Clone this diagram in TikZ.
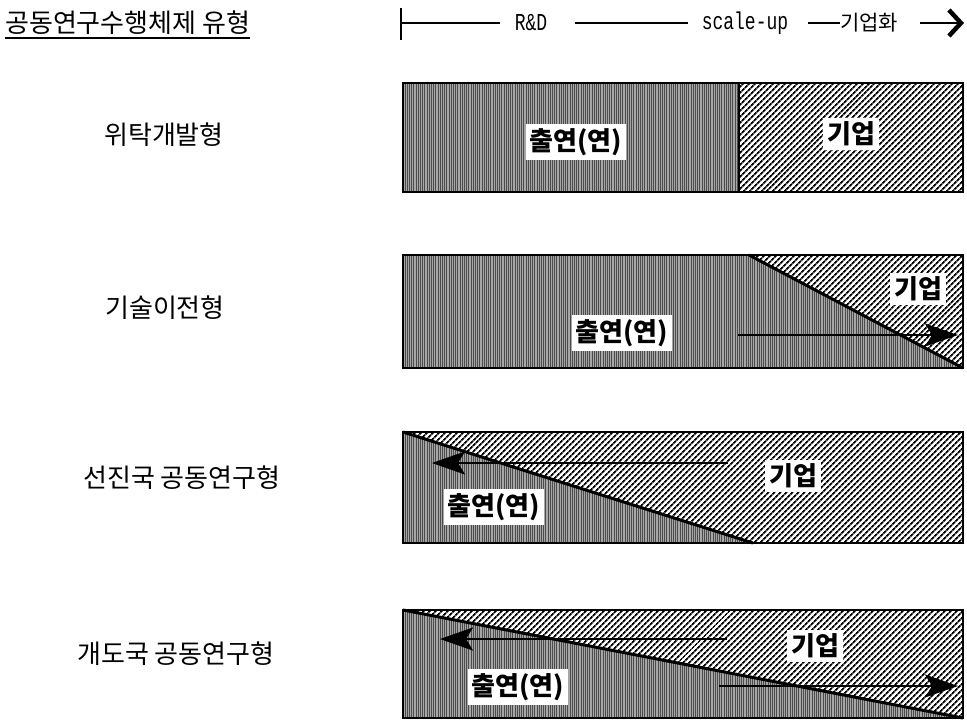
\documentclass[tikz,border=0pt]{standalone}
\usepackage{fontspec}
\setmainfont{Noto Sans CJK KR}
\newfontfamily\monofnt{Liberation Mono}
\usetikzlibrary{patterns.meta,arrows.meta}
\tikzset{
  dark/.style={fill=black!35, postaction={pattern={Lines[angle=90,distance=2.2pt,line width=0.55pt]}, pattern color=black!70}},
  hatch/.style={fill=white, postaction={pattern={Lines[angle=45,distance=4pt,line width=1.9pt]}, pattern color=black}},
  frame/.style={line width=2.8pt},
  divline/.style={line width=3pt},
  thindiv/.style={line width=1.5pt},
  flow/.style={line width=2.5pt, -{Stealth[length=33pt,width=23pt,inset=7pt]}},
  lab/.style={fill=white, font=\fontsize{26}{28}\selectfont\bfseries, inner sep=4pt},
  rowlab/.style={font=\fontsize{26}{28}\selectfont},
  hdr/.style={line width=1.4pt},
  mono/.style={font=\monofnt\fontsize{18}{20}\selectfont},
}
\begin{document}
\begin{tikzpicture}[x=1pt,y=-1pt]
\useasboundingbox (0,0) rectangle (967,720);

% header
\node[font=\fontsize{26}{28}\selectfont, anchor=west, inner sep=0pt] (title) at (5,23) {공동연구수행체제 유형};
\draw[line width=1.3pt] ([yshift=-3pt]title.south west) -- ([yshift=-3pt]title.south east);
\coordinate (t0) at (401,23);
\coordinate (tt) at (401,8);
\coordinate (tb) at (401,40);
\draw[line width=1.8pt] (tt) -- (tb);
\node[mono, inner sep=0pt] (rd) at (531,23) {\scalebox{1}[1.35]{R\&D}};
\node[mono, inner sep=0pt] (su) at (745,23) {\scalebox{1}[1.35]{scale-up}};
\node[font=\fontsize{21}{23}\selectfont, anchor=west, inner sep=0pt] (gh) at (840,23) {기업화};
\coordinate (h1) at (500,23);
\coordinate (h2) at (575,23);
\coordinate (h3) at (688,23);
\coordinate (h4) at (808,23);
\coordinate (h5) at (920,23);
\coordinate (h6) at (964,23);
\draw[hdr] (t0) -- (h1);
\draw[hdr] (h2) -- (h3);
\draw[hdr] (h4) -- (gh.west);
\draw[hdr, -{Straight Barb[length=12pt,width=26pt,line width=4.5pt]}] (h5) -- (h6);

% row labels
\node[rowlab] (l1) at (164,135) {위탁개발형};
\node[rowlab] (l2) at (165,308) {기술이전형};
\node[rowlab] (l3) at (182,478) {선진국 공동연구형};
\node[rowlab] (l4) at (176,654) {개도국 공동연구형};

% row 1
\path[dark] (403,83) rectangle (739,192);
\path[hatch] (739,83) rectangle (963,192);
\draw[thindiv] (739,83) -- (739,192);
\draw[frame] (403,83) rectangle (963,192);
\node[lab] (a1) at (576,142) {출연(연)};
\node[lab] (b1) at (851,134) {기업};

% row 2
\path[dark] (403,255) -- (749,255) -- (963,368) -- (403,368) -- cycle;
\path[hatch] (749,255) -- (963,255) -- (963,368) -- cycle;
\draw[divline] (749,255) -- (963,368);
\draw[frame] (403,255) rectangle (963,368);
\node[lab] (b2) at (918,289) {기업};
\node[lab] (a2) at (622,333) {출연(연)};
\coordinate (s2) at (738,335);
\coordinate (e2) at (958,335);
\draw[flow] (s2) -- (e2);

% row 3
\path[dark] (403,432) -- (753,543) -- (403,543) -- cycle;
\path[hatch] (403,432) -- (963,432) -- (963,543) -- (753,543) -- cycle;
\draw[divline] (403,432) -- (753,543);
\draw[frame] (403,432) rectangle (963,543);
\coordinate (s3) at (728,463);
\coordinate (e3) at (432,463);
\draw[flow] (s3) -- (e3);
\node[lab] (b3) at (793,476) {기업};
\node[lab] (a3) at (494,507) {출연(연)};

% row 4
\path[dark] (403,610) -- (963,718) -- (403,718) -- cycle;
\path[hatch] (403,610) -- (963,610) -- (963,718) -- cycle;
\draw[divline] (403,610) -- (963,718);
\draw[frame] (403,610) rectangle (963,718);
\coordinate (s4) at (727,639);
\coordinate (e4) at (440,639);
\coordinate (s5) at (719,686);
\coordinate (e5) at (958,686);
\draw[flow] (s4) -- (e4);
\draw[flow] (s5) -- (e5);
\node[lab] (b4) at (815,646) {기업};
\node[lab] (a4) at (518,687) {출연(연)};
\end{tikzpicture}
\end{document}
